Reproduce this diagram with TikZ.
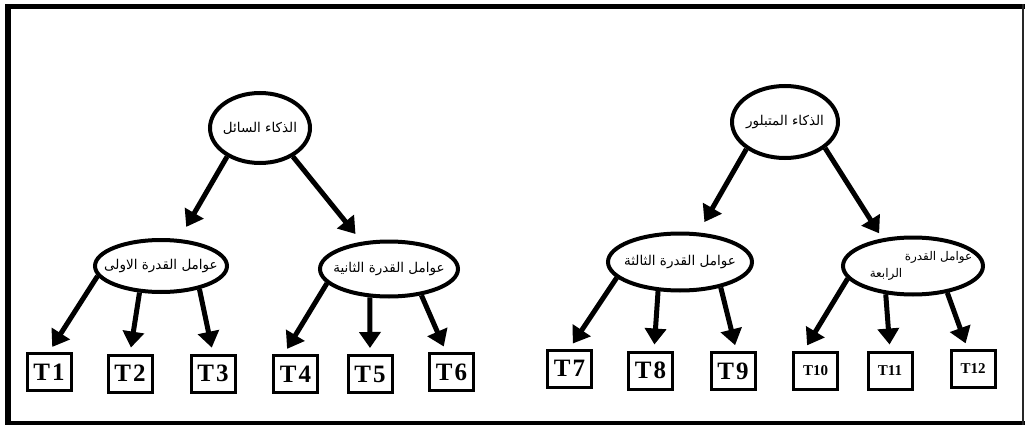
\documentclass[tikz,border=0pt]{standalone}
\usepackage{fontspec}
\setmainfont{Liberation Serif}
\newfontfamily\arabicfont[Script=Arabic]{DejaVu Sans}
\TeXXeTstate=1
\usetikzlibrary{arrows.meta,shapes.geometric}

\begin{document}
\begin{tikzpicture}[x=1pt,y=-1pt,
  artext/.style={font=\arabicfont\fontsize{13.5}{18}\selectfont},
  oval/.style={ellipse, draw, line width=4pt, inner xsep=-12pt, inner ysep=0pt, artext},
  tbox/.style={draw, line width=3pt, minimum width=44pt, minimum height=37pt,
    inner sep=0pt, font=\bfseries\fontsize{25}{25}\selectfont},
  tsmall/.style={font=\bfseries\fontsize{15}{15}\selectfont},
  arr/.style={line width=5pt, -{Triangle[length=16pt,width=21pt]}},
]
\useasboundingbox (0,0) rectangle (1025,425);

% outer frame
\fill (5,4) rectangle (1025,9);
\fill (5,4) rectangle (11,425);
\fill (5,421) rectangle (1025,425);
\draw[line width=1.5pt, black!85] (1023,4) -- (1023,425);

% fluid intelligence tree
\node[oval, minimum width=100pt, minimum height=70pt] (r1) at (260,128)
  {\beginR الذكاء السائل\endR};
\node[oval, minimum width=132pt, minimum height=52pt] (e1) at (161,266)
  {\beginR عوامل القدرة الاولى\endR};
\node[oval, minimum width=138pt, minimum height=55pt] (e2) at (389,269)
  {\beginR عوامل القدرة الثانية\endR};

% crystallized intelligence tree
\node[oval, minimum width=106pt, minimum height=72pt] (r2) at (785,122)
  {\beginR الذكاء المتبلور\endR};
\node[oval, minimum width=144pt, minimum height=57pt] (e3) at (680,262)
  {\beginR عوامل القدرة الثالثة\endR};
\node[oval, minimum width=140pt, minimum height=57pt,
  label={[font=\arabicfont\fontsize{12}{17}\selectfont, align=right,
          inner sep=0pt, xshift=8pt]center:%
    {\beginR عوامل القدرة\endR\\\beginR الرابعة\endR\rule{70pt}{0pt}}}]
  (e4) at (913,266) {};

% test boxes
\node[tbox] (t1) at (49,372) {T\kern2pt 1};
\node[tbox] (t2) at (130,373.5) {T\kern2pt 2};
\node[tbox] (t3) at (213,373.5) {T\kern2pt 3};
\node[tbox] (t4) at (295.5,374) {T\kern2pt 4};
\node[tbox] (t5) at (370,374) {T\kern2pt 5};
\node[tbox] (t6) at (451.5,372) {T\kern2pt 6};
\node[tbox] (t7) at (569.5,368.5) {T\kern2pt 7};
\node[tbox] (t8) at (650.5,370.5) {T\kern2pt 8};
\node[tbox] (t9) at (733,371) {T\kern2pt 9};
\node[tbox, tsmall] (t10) at (815.5,370.5) {T10};
\node[tbox, tsmall] (t11) at (890,370.5) {T11};
\node[tbox, tsmall] (t12) at (973,369) {T12};

% roots to factor groups
\draw[arr, shorten >=14pt] (r1.221) -- (e1.56);
\draw[arr, shorten >=10pt] (r1.319) -- (e2.135.6);
\draw[arr, shorten >=12pt] (r2.215) -- (e3.58);
\draw[arr, shorten >=6pt] (r2.327) -- (e4.138.7);

% factor groups to tests
\draw[arr, shorten >=6pt] (e1.189) -- (t1.north);
\draw[arr, shorten >=6pt] (e1.231) -- (t2.north);
\draw[arr, shorten >=6pt] (e1.329) -- (t3.north);
\draw[arr, shorten >=6pt] (e2.193.6) -- (t4.120);
\draw[arr, shorten >=6pt] (e2.236) -- (t5.north);
\draw[arr, shorten >=6pt] (e2.321.6) -- (t6.105);
\draw[arr, shorten >=6pt] (e3.194.5) -- (t7.north);
\draw[arr, shorten >=6pt] (e3.233.4) -- (t8.80);
\draw[arr, shorten >=6pt] (e3.328) -- (t9.80);
\draw[arr, shorten >=6pt] (e4.191) -- (t10.120);
\draw[arr, shorten >=6pt] (e4.226) -- (t11.north);
\draw[arr, shorten >=6pt] (e4.322) -- (t12.105);
\end{tikzpicture}
\end{document}
